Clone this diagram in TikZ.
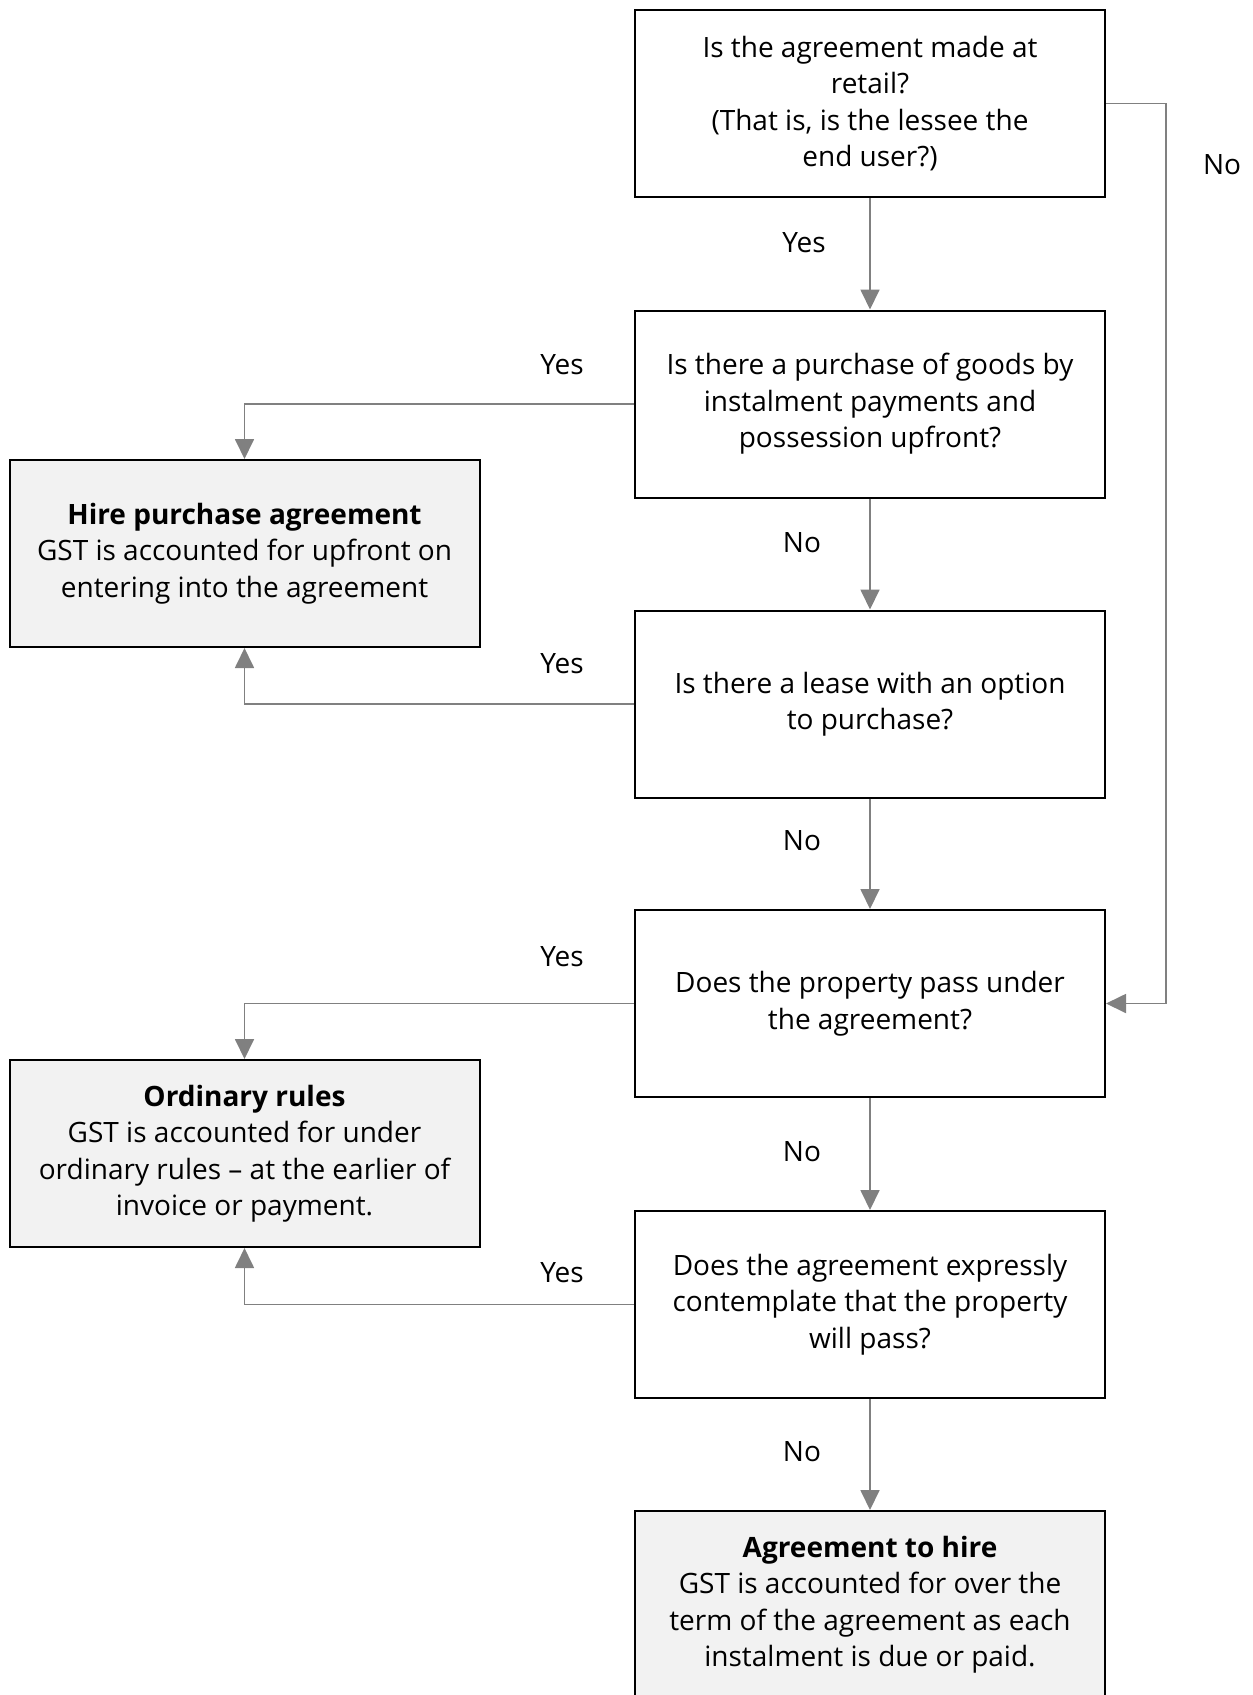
\documentclass[tikz,border=0pt]{standalone}
\usepackage{fontspec}
\setmainfont{Open Sans}
\usetikzlibrary{arrows.meta}
\begin{document}
\begin{tikzpicture}[x=1pt,y=-1pt,
  every node/.style={font=\fontsize{28}{36.5}\selectfont},
  question/.style={draw=black,line width=2pt,fill=white,minimum width=470pt,minimum height=187pt,align=center,inner sep=0pt},
  outcome/.style={question,fill=black!5},
  flow/.style={draw=black!50,line width=1.8pt,-{Triangle[length=20pt,width=19pt]}},
  lbl/.style={inner sep=0pt}]
\useasboundingbox (0,0) rectangle (1253,1695);
\clip (0,0) rectangle (1253,1695);

% decision boxes
\node[question] (q1) at (870,103.5) {Is the agreement made at\\retail?\\(That is, is the lessee the\\end user?)};
\node[question] (q2) at (870,404) {Is there a purchase of goods by\\instalment payments and\\possession upfront?};
\node[question] (q3) at (870,704) {Is there a lease with an option\\to purchase?};
\node[question] (q4) at (870,1003.5) {Does the property pass under\\the agreement?};
\node[question] (q5) at (870,1304.5) {Does the agreement expressly\\contemplate that the property\\will pass?};

% outcome boxes
\node[outcome] (hp) at (244.5,553.5) {\textbf{Hire purchase agreement}\\GST is accounted for upfront on\\entering into the agreement};
\node[outcome] (ord) at (244.5,1153.5) {\textbf{Ordinary rules}\\GST is accounted for under\\ordinary rules -- at the earlier of\\invoice or payment.};
\node[outcome] (hire) at (870,1604.5) {\textbf{Agreement to hire}\\GST is accounted for over the\\term of the agreement as each\\instalment is due or paid.};

% connectors
\draw[flow] (q1) -- (q2);
\draw[flow] (q2) -- (q3);
\draw[flow] (q3) -- (q4);
\draw[flow] (q4) -- (q5);
\draw[flow] (q5) -- (hire);
\draw[flow] (q2.west) -| (hp.north);
\draw[flow] (q3.west) -| (hp.south);
\draw[flow] (q4.west) -| (ord.north);
\draw[flow] (q5.west) -| (ord.south);
\coordinate (bend) at ([xshift=60pt]q1.east);
\draw[flow] (q1.east) -- (bend) |- (q4.east);

% branch labels
\node[lbl] (y1) at (804,243) {Yes};
\node[lbl] (n1) at (802,543) {No};
\node[lbl] (n2) at (802,841) {No};
\node[lbl] (n3) at (802,1152) {No};
\node[lbl] (n4) at (802,1452) {No};
\node[lbl] (y2) at (562,365) {Yes};
\node[lbl] (y3) at (562,664) {Yes};
\node[lbl] (y4) at (562,957) {Yes};
\node[lbl] (y5) at (562,1273) {Yes};
\node[lbl] (n5) at (1222,165) {No};
\end{tikzpicture}
\end{document}
